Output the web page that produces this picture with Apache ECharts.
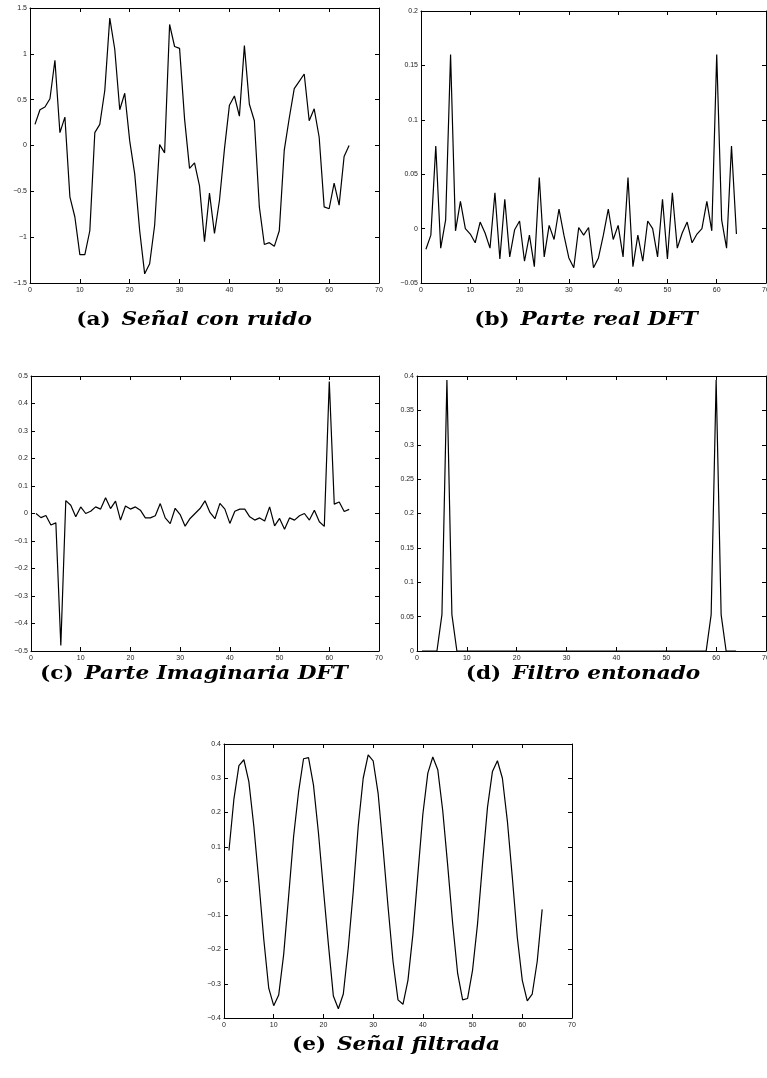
<!DOCTYPE html>
<html>
<head>
<meta charset="utf-8">
<script src="https://cdn.jsdelivr.net/npm/echarts@6/dist/echarts.min.js"></script>
<style>
  html, body { margin: 0; padding: 0; background: #fff; }
  #chart { width: 767px; height: 1078px; }
</style>
</head>
<body>
<div id="chart"></div>
<script>
// Sample index n = 1..64
const muestras = Array.from({ length: 64 }, (_, i) => i + 1);

// (a) Noisy signal
const senalConRuido = [0.23, 0.39, 0.42, 0.51, 0.93, 0.14, 0.31, -0.56, -0.78, -1.19,
  -1.19, -0.93, 0.14, 0.23, 0.60, 1.39, 1.05, 0.39, 0.57, 0.05,
  -0.31, -0.93, -1.40, -1.29, -0.87, 0.01, -0.08, 1.32, 1.08, 1.06,
  0.29, -0.25, -0.19, -0.44, -1.05, -0.52, -0.96, -0.60, -0.04, 0.44,
  0.54, 0.32, 1.09, 0.45, 0.27, -0.67, -1.08, -1.06, -1.10, -0.93,
  -0.05, 0.30, 0.62, 0.70, 0.78, 0.27, 0.40, 0.09, -0.67, -0.69,
  -0.41, -0.65, -0.12, 0.00];

// (b) Real part of the DFT
const parteReal = [-0.019, -0.006, 0.076, -0.018, 0.008, 0.160, -0.002, 0.025, 0.000, -0.005,
  -0.013, 0.006, -0.004, -0.018, 0.033, -0.028, 0.027, -0.026, -0.001, 0.007,
  -0.030, -0.006, -0.035, 0.047, -0.026, 0.003, -0.010, 0.018, -0.006, -0.027,
  -0.036, 0.001, -0.006, 0.001, -0.036, -0.027, -0.006, 0.018, -0.010, 0.003,
  -0.026, 0.047, -0.035, -0.006, -0.030, 0.007, 0.000, -0.026, 0.027, -0.028,
  0.033, -0.018, -0.004, 0.006, -0.013, -0.005, 0.000, 0.025, -0.002, 0.160,
  0.008, -0.018, 0.076, -0.005];

// (c) Imaginary part of the DFT
const parteImaginaria = [0.000, -0.015, -0.007, -0.042, -0.034, -0.480, 0.047, 0.030, -0.012, 0.024,
  0.000, 0.008, 0.024, 0.016, 0.057, 0.018, 0.045, -0.024, 0.027, 0.016,
  0.024, 0.012, -0.016, -0.016, -0.008, 0.036, -0.016, -0.037, 0.019, -0.004,
  -0.046, -0.018, 0.000, 0.018, 0.046, 0.004, -0.019, 0.037, 0.016, -0.036,
  0.008, 0.016, 0.016, -0.012, -0.024, -0.016, -0.027, 0.024, -0.045, -0.018,
  -0.057, -0.016, -0.024, -0.008, 0.000, -0.024, 0.012, -0.030, -0.047, 0.480,
  0.034, 0.042, 0.007, 0.015];

// (d) Tuned filter
const filtroEntonado = [0, 0, 0, 0, 0.053, 0.394, 0.053, 0, 0, 0,
  0, 0, 0, 0, 0, 0, 0, 0, 0, 0,
  0, 0, 0, 0, 0, 0, 0, 0, 0, 0,
  0, 0, 0, 0, 0, 0, 0, 0, 0, 0,
  0, 0, 0, 0, 0, 0, 0, 0, 0, 0,
  0, 0, 0, 0, 0, 0, 0, 0, 0.053, 0.394,
  0.053, 0, 0, 0];

// (e) Filtered signal
const senalFiltrada = [0.089, 0.240, 0.337, 0.354, 0.290, 0.160, 0.000, -0.170, -0.313, -0.364,
  -0.333, -0.215, -0.045, 0.130, 0.260, 0.357, 0.360, 0.280, 0.140, -0.025,
  -0.185, -0.336, -0.373, -0.330, -0.195, -0.030, 0.160, 0.300, 0.368, 0.351,
  0.256, 0.095, -0.075, -0.235, -0.347, -0.360, -0.290, -0.155, 0.020, 0.195,
  0.315, 0.362, 0.325, 0.205, 0.045, -0.125, -0.270, -0.347, -0.343, -0.260,
  -0.125, 0.050, 0.215, 0.320, 0.351, 0.300, 0.175, 0.010, -0.165, -0.290,
  -0.350, -0.330, -0.235, -0.083];

// Axis ranges per panel: [yMin, yMax, yStep]
const rangosY = [
  [-1.5, 1.5, 0.5],
  [-0.05, 0.2, 0.05],
  [-0.5, 0.5, 0.1],
  [0, 0.4, 0.05],
  [-0.4, 0.4, 0.1]
];
const rangoX = [0, 70, 10];

// Captions
const leyendas = [
  ['(a)', 'Señal con ruido'],
  ['(b)', 'Parte real DFT'],
  ['(c)', 'Parte Imaginaria DFT'],
  ['(d)', 'Filtro entonado'],
  ['(e)', 'Señal filtrada']
];

const series = [senalConRuido, parteReal, parteImaginaria, filtroEntonado, senalFiltrada];

// Panel geometry (pixels)
const paneles = [
  { left: 30, top: 8, width: 349, height: 275, cx: 194, cy: 320 },
  { left: 421, top: 11, width: 345, height: 272, cx: 586, cy: 320 },
  { left: 31, top: 376, width: 348, height: 275, cx: 194, cy: 674 },
  { left: 417, top: 376, width: 349, height: 275, cx: 583, cy: 674 },
  { left: 224, top: 744, width: 348, height: 274, cx: 396, cy: 1045 }
];

const fmt = v => {
  const s = String(+v.toFixed(4));
  return s.replace('-', '\u2212');
};

const labelStyle = { fontSize: 7, color: '#222', fontFamily: 'Liberation Sans, Arial, sans-serif' };
const lineStyle = { color: '#000', width: 1 };

const grid = [], xAxis = [], yAxis = [], seriesOpt = [], graphic = [];

paneles.forEach((p, k) => {
  grid.push({ left: p.left, top: p.top, width: p.width, height: p.height, outerBoundsMode: 'none', show: false });
  const [ymin, ymax, ystep] = rangosY[k];
  // bottom and top x axes (box with inward ticks)
  ['bottom', 'top'].forEach(pos => {
    xAxis.push({
      type: 'value', gridIndex: k, position: pos,
      min: rangoX[0], max: rangoX[1], interval: rangoX[2],
      axisLine: { show: true, onZero: false, lineStyle },
      axisTick: { show: true, inside: true, length: 4, lineStyle },
      axisLabel: { show: pos === 'bottom', margin: 4, formatter: fmt, ...labelStyle },
      splitLine: { show: false }
    });
  });
  // left and right y axes
  ['left', 'right'].forEach(pos => {
    yAxis.push({
      type: 'value', gridIndex: k, position: pos,
      min: ymin, max: ymax, interval: ystep,
      axisLine: { show: true, onZero: false, lineStyle },
      axisTick: { show: true, inside: true, length: 4, lineStyle },
      axisLabel: { show: pos === 'left', margin: 3, formatter: fmt, ...labelStyle },
      splitLine: { show: false }
    });
  });
  seriesOpt.push({
    type: 'line',
    xAxisIndex: 2 * k, yAxisIndex: 2 * k,
    data: muestras.map((n, i) => [n, series[k][i]]),
    showSymbol: false, symbol: 'none',
    lineStyle: { color: '#000', width: 1.2 },
    animation: false, silent: true
  });
  // Caption: upright bold label plus bold italic text, widened horizontally
  graphic.push({
    type: 'text', x: p.cx, y: p.cy, scaleX: 1.2, scaleY: 1,
    style: {
      text: '{n|' + leyendas[k][0] + '}{i|' + leyendas[k][1] + '}',
      align: 'center', verticalAlign: 'middle',
      rich: {
        n: { fontFamily: 'DejaVu Serif', fontWeight: 'bold', fontSize: 18, fill: '#000', padding: [0, 9, 0, 0] },
        i: { fontFamily: 'DejaVu Serif', fontWeight: 'bold', fontStyle: 'italic', fontSize: 18, fill: '#000' }
      }
    }
  });
});

const chart = echarts.init(document.getElementById('chart'), null, { renderer: 'canvas' });
chart.setOption({
  animation: false,
  backgroundColor: '#fff',
  grid, xAxis, yAxis,
  series: seriesOpt,
  graphic
});
</script>
</body>
</html>
